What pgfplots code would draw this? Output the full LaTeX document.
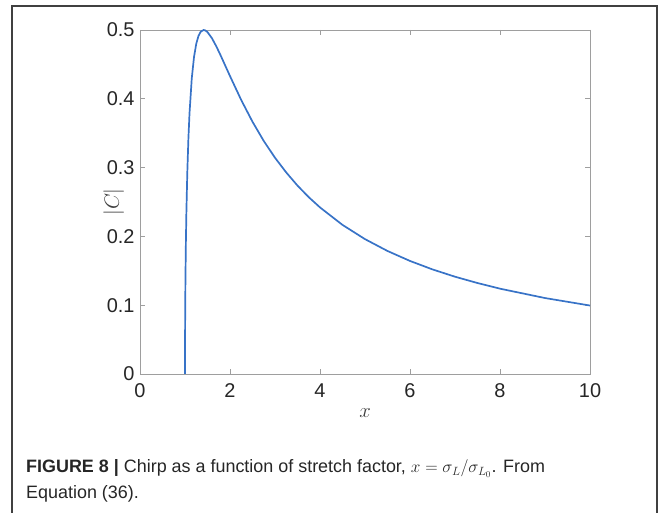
\documentclass[border=0pt]{standalone}
\usepackage{fontspec}
\setmainfont{Liberation Sans}
\usepackage{pgfplots}
\pgfplotsset{compat=1.18}
\definecolor{curve}{rgb}{0.22,0.45,0.78}
\definecolor{axgray}{rgb}{0.62,0.62,0.62}
\begin{document}
\begin{tikzpicture}[x=1bp,y=1bp]
\path[use as bounding box] (0,0) rectangle (668,513);
\draw[line width=1.2bp, black!75] (12,0) -- (12,507) -- (657,507) -- (657,0);
\begin{axis}[
  at={(140bp,139bp)}, anchor=south west,
  scale only axis, width=450bp, height=344bp,
  xmin=0, xmax=10, ymin=0, ymax=0.5,
  xtick={0,2,...,10}, ytick={0,0.1,...,0.5},
  yticklabels={0,0.1,0.2,0.3,0.4,0.5},
  tick align=inside, major tick length=5bp,
  axis line style={axgray, line width=0.8bp},
  every tick/.style={axgray, line width=0.8bp},
  tick label style={font=\fontsize{20}{22}\selectfont, text=black!85},
  /pgf/number format/assume math mode=true,
  xticklabel style={yshift=-6bp},
  yticklabel style={xshift=-2bp},
  xlabel={$x$}, ylabel={$|C|$},
  label style={font=\fontsize{22}{24}\selectfont, text=black!75},
  xlabel style={yshift=-4bp},
  ylabel style={yshift=-24bp},
]
\addplot[curve, line width=1.7bp] coordinates {
(1,0) (1.0005,0.0316) (1.002,0.0630) (1.005,0.0991) (1.01,0.1390) (1.02,0.1932)
(1.03,0.2326) (1.05,0.2904) (1.075,0.3414) (1.1,0.3787) (1.15,0.4294) (1.2,0.4606)
(1.25,0.48) (1.3,0.4915) (1.35,0.4976) (1.4142,0.5) (1.45,0.4994) (1.5,0.4969)
(1.6,0.4879) (1.7,0.4757) (1.8,0.4619) (1.9,0.4474) (2.0,0.4330) (2.25,0.3981) (2.5,0.3666)
(2.75,0.3387) (3,0.3143) (3.25,0.2929) (3.5,0.2738) (3.75,0.2570) (4,0.2421) (4.5,0.2167) (5,0.1960)
(5.5,0.1788) (6,0.1643) (6.5,0.1520) (7,0.1414) (7.5,0.1322) (8,0.1240) (9,0.1104) (10,0.0995)
};
\end{axis}
\node[anchor=base west, inner sep=0, font=\fontsize{18}{21}\selectfont, text=black!85] at (26,40)
 {\textbf{FIGURE 8 |} Chirp as a function of stretch factor, $x=\sigma_L/\sigma_{L_0}$. From};
\node[anchor=base west, inner sep=0, font=\fontsize{18}{21}\selectfont, text=black!85] at (26,14)
 {Equation (36).};
\end{tikzpicture}
\end{document}
